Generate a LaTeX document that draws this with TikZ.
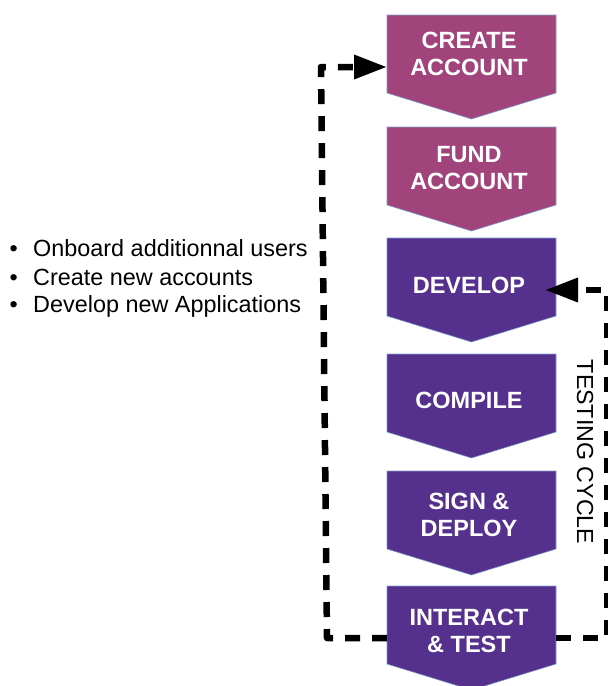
\documentclass[tikz,border=0pt]{standalone}
\usepackage{fontspec}
\setmainfont{Liberation Sans}
\usetikzlibrary{arrows.meta,calc}

\definecolor{acctcol}{HTML}{A0447B}
\definecolor{devcol}{HTML}{55308C}
\definecolor{edgecol}{HTML}{7F9DCC}

\tikzset{
  stepbox/.style={minimum width=169pt, minimum height=104pt, inner sep=0pt, outer sep=0pt},
  steplabel/.style={text=white, font=\bfseries\fontsize{23.5}{27}\selectfont, align=center, inner sep=0pt},
  chevron/.style={draw=edgecol, line width=0.6pt},
  loopline/.style={line width=6.5pt, dash pattern=on 15pt off 12pt, line join=round},
  looptip/.style={-{Triangle[length=33pt,width=23pt]}},
  listitem/.style={anchor=base west, inner sep=0pt, font=\fontsize{23.4}{28}\selectfont},
}

\begin{document}
\begin{tikzpicture}[x=1pt,y=-1pt]
  \clip (0,0) rectangle (608,686);

  % step outlines (whole chevron extents)
  \node[stepbox] (create)   at (471.5,67)  {};
  \node[stepbox] (fund)     at (471.5,179) {};
  \node[stepbox] (develop)  at (471.5,290) {};
  \node[stepbox] (compile)  at (471.5,406) {};
  \node[stepbox] (sign)     at (471.5,523) {};
  \node[stepbox] (interact) at (471.5,638) {};

  % chevron bodies
  \foreach \n/\c in {create/acctcol, fund/acctcol, develop/devcol,
                     compile/devcol, sign/devcol, interact/devcol}
    \filldraw[chevron, fill=\c] (\n.north west) -- (\n.north east)
      -- ($(\n.south east)+(0,-26)$) -- (\n.south)
      -- ($(\n.south west)+(0,-26)$) -- cycle;

  % step titles
  \node[steplabel] (create-t)   at (469,54)    {CREATE\\ACCOUNT};
  \node[steplabel] (fund-t)     at (469,168)   {FUND\\ACCOUNT};
  \node[steplabel] (develop-t)  at (469,285)   {DEVELOP};
  \node[steplabel] (compile-t)  at (469,400)   {COMPILE};
  \node[steplabel] (sign-t)     at (469,515)   {SIGN \&\\DEPLOY};
  \node[steplabel] (interact-t) at (469,630.5) {INTERACT\\\& TEST};

  % outer loop back to account creation
  \coordinate (lc1) at (327,638);
  \coordinate (lc2) at (321,67);
  \draw[loopline, looptip] (interact.west) -- (lc1) -- (lc2) -- (create.west);

  % testing cycle back to development
  \coordinate (rc1) at (607,638);
  \coordinate (rc2) at (607,290);
  \coordinate (devtip) at ($(develop.east)+(-11,0)$);
  \draw[loopline, looptip] (interact.east) -- (rc1) -- (rc2) -- (devtip);

  \node[rotate=-90, inner sep=0pt, font=\fontsize{23.2}{28}\selectfont] (cycle) at (585,452) {TESTING CYCLE};

  % bullet list
  \node[listitem] (item1) at (9.5,256.7) {\makebox[23.5pt][l]{•}Onboard additionnal users};
  \node[listitem] (item2) at (9.5,285)   {\makebox[23.5pt][l]{•}Create new accounts};
  \node[listitem] (item3) at (9.5,312.7) {\makebox[23.5pt][l]{•}Develop new Applications};
\end{tikzpicture}
\end{document}
